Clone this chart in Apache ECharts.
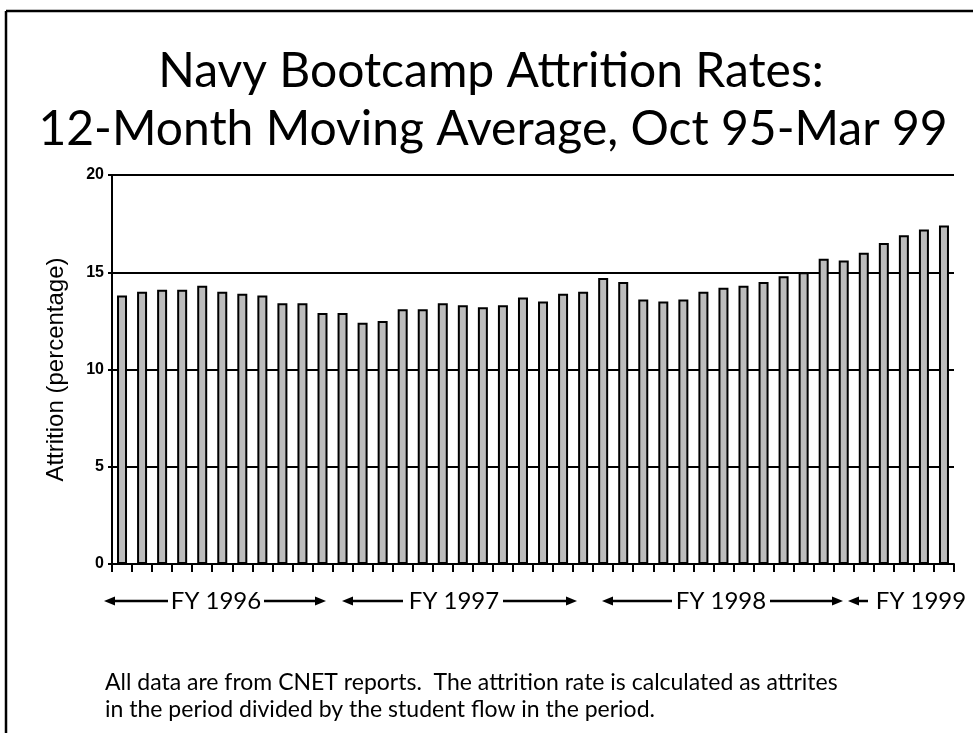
<!DOCTYPE html>
<html>
<head>
<meta charset="utf-8">
<script src="https://cdn.jsdelivr.net/npm/echarts@6/dist/echarts.min.js"></script>
<style>
  html, body { margin: 0; padding: 0; background: #fff; }
  #chart { width: 973px; height: 733px; }
</style>
</head>
<body>
<div id="chart"></div>
<script>
// monthly categories, Oct 95 .. Mar 99
const months = [
  'Oct 95','Nov 95','Dec 95','Jan 96','Feb 96','Mar 96','Apr 96','May 96','Jun 96','Jul 96','Aug 96','Sep 96',
  'Oct 96','Nov 96','Dec 96','Jan 97','Feb 97','Mar 97','Apr 97','May 97','Jun 97','Jul 97','Aug 97','Sep 97',
  'Oct 97','Nov 97','Dec 97','Jan 98','Feb 98','Mar 98','Apr 98','May 98','Jun 98','Jul 98','Aug 98','Sep 98',
  'Oct 98','Nov 98','Dec 98','Jan 99','Feb 99','Mar 99'
];
// 12-month moving average attrition (%)
const attrition = [
  13.8, 14.0, 14.1, 14.1, 14.3, 14.0, 13.9, 13.8, 13.4, 13.4, 12.9, 12.9,
  12.4, 12.5, 13.1, 13.1, 13.4, 13.3, 13.2, 13.3, 13.7, 13.5, 13.9, 14.0,
  14.7, 14.5, 13.6, 13.5, 13.6, 14.0, 14.2, 14.3, 14.5, 14.8, 15.0, 15.7,
  15.6, 16.0, 16.5, 16.9, 17.2, 17.4
];
const yTicks = [0, 5, 10, 15, 20];
const fyLabels = ['FY 1996', 'FY 1997', 'FY 1998', 'FY 1999'];

const chart = echarts.init(document.getElementById('chart'));
const serif = 'Lato, "Open Sans", sans-serif';

// arrow helper for the fiscal-year brackets under the axis
function arrow(x1, x2, y, dir) {
  // dir: -1 head at x1, 1 head at x2
  const tip = dir < 0 ? x1 : x2;
  const base = tip - dir * 11;
  return [
    { type: 'line', shape: { x1: dir < 0 ? base : x1, y1: y, x2: dir < 0 ? x2 : base, y2: y },
      style: { stroke: '#000', lineWidth: 2.5 } },
    { type: 'polygon', shape: { points: [[tip, y], [base, y - 4.5], [base, y + 4.5]] },
      style: { fill: '#000' } }
  ];
}

const fyY = 601;
const fyFont = '24px ' + serif;
const fyGraphics = [
  ...arrow(104, 168, fyY, -1), { type: 'text', x: 216, y: fyY, style: { text: fyLabels[0], font: fyFont, fill: '#000', textAlign: 'center', textVerticalAlign: 'middle' } }, ...arrow(264, 326, fyY, 1),
  ...arrow(342, 403, fyY, -1), { type: 'text', x: 454, y: fyY, style: { text: fyLabels[1], font: fyFont, fill: '#000', textAlign: 'center', textVerticalAlign: 'middle' } }, ...arrow(503, 577, fyY, 1),
  ...arrow(602, 672, fyY, -1), { type: 'text', x: 721, y: fyY, style: { text: fyLabels[2], font: fyFont, fill: '#000', textAlign: 'center', textVerticalAlign: 'middle' } }, ...arrow(770, 843, fyY, 1),
  ...arrow(848, 868, fyY, -1), { type: 'text', x: 921, y: fyY, style: { text: fyLabels[3], font: fyFont, fill: '#000', textAlign: 'center', textVerticalAlign: 'middle' } }
];

chart.setOption({
  backgroundColor: '#fff',
  animation: false,
  grid: { left: 112, right: 19, top: 175, bottom: 169, containLabel: false },
  xAxis: {
    type: 'category',
    data: months,
    boundaryGap: true,
    axisLine: { lineStyle: { color: '#000', width: 2 } },
    axisTick: { show: true, length: 8, interval: 0, lineStyle: { color: '#000', width: 2 } },
    axisLabel: { show: false },
    splitLine: { show: false }
  },
  yAxis: {
    type: 'value',
    min: yTicks[0],
    max: yTicks[yTicks.length - 1],
    interval: 5,
    name: 'Attrition (percentage)',
    nameLocation: 'middle',
    nameGap: 44,
    nameTextStyle: { fontFamily: 'Arial, "Liberation Sans", sans-serif', fontSize: 24, color: '#000' },
    axisLine: { show: true, lineStyle: { color: '#000', width: 2 } },
    axisTick: { show: true, length: 4, lineStyle: { color: '#000', width: 2 } },
    axisLabel: { color: '#000', fontSize: 16, fontWeight: 'bold', fontFamily: 'Arial, "Liberation Sans", sans-serif', margin: 8 },
    splitLine: { show: true, lineStyle: { color: '#000', width: 2 } }
  },
  series: [{
    type: 'bar',
    data: attrition,
    barWidth: 10,
    itemStyle: { color: '#bcbcbc', borderColor: '#000', borderWidth: 2 }
  }],
  graphic: [
    // frame
    { type: 'line', shape: { x1: 6, y1: 11, x2: 973, y2: 11 }, style: { stroke: '#000', lineWidth: 2.5 } },
    { type: 'line', shape: { x1: 6, y1: 11, x2: 6, y2: 733 }, style: { stroke: '#000', lineWidth: 2.5 } },
    // title
    { type: 'text', x: 491, y: 72, style: { text: 'Navy Bootcamp Attrition Rates:', font: '48px ' + serif, fill: '#000', textAlign: 'center', textVerticalAlign: 'middle' } },
    { type: 'text', x: 493, y: 130, style: { text: '12-Month Moving Average, Oct 95-Mar 99', font: '48px ' + serif, fill: '#000', textAlign: 'center', textVerticalAlign: 'middle' } },
    ...fyGraphics,
    // footnote
    { type: 'text', x: 105, y: 683, style: { text: 'All data are from CNET reports.  The attrition rate is calculated as attrites', font: '23px ' + serif, fill: '#000', textVerticalAlign: 'middle' } },
    { type: 'text', x: 105, y: 710, style: { text: 'in the period divided by the student flow in the period.', font: '23px ' + serif, fill: '#000', textVerticalAlign: 'middle' } }
  ]
});
</script>
</body>
</html>
